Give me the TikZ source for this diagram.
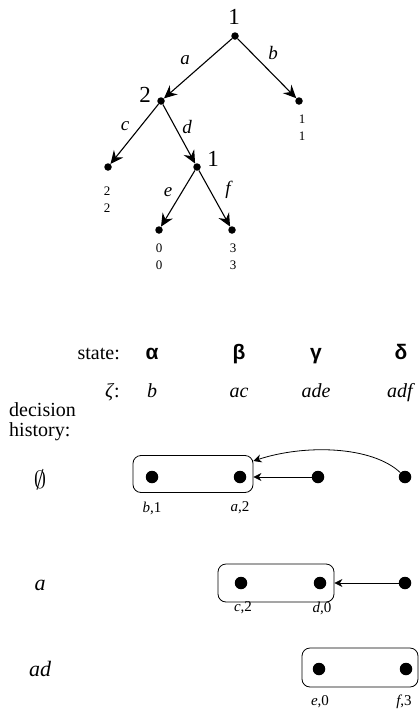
\documentclass[tikz,border=0pt]{standalone}
\usepackage{fontspec}
\setmainfont{Liberation Serif}
\newfontfamily\gsans{Liberation Sans}
\usetikzlibrary{arrows.meta}
\begin{document}
\begin{tikzpicture}[x=1pt,y=-1pt,
  tdot/.style={circle,fill=black,inner sep=0pt,minimum size=7.5pt},
  ldot/.style={circle,fill=black,inner sep=0pt,minimum size=12.5pt},
  tarrow/.style={line width=1.1pt,-{Stealth[length=13pt,width=12pt,inset=4.5pt]}},
  larrow/.style={line width=0.8pt,-{Stealth[length=8pt,width=8pt,inset=2.5pt]}},
  plabel/.style={font=\fontsize{23}{24}\selectfont,inner sep=0pt},
  elabel/.style={font=\fontsize{19}{20}\selectfont\itshape,inner sep=0pt},
  pay/.style={font=\fontsize{13}{17}\selectfont,align=center,inner sep=0pt},
  txt/.style={font=\fontsize{20}{20}\selectfont,inner sep=0pt,anchor=base},
  greek/.style={font=\fontsize{21}{21}\selectfont\gsans\bfseries,inner sep=0pt,anchor=base},
  hist/.style={font=\fontsize{22}{22}\selectfont\itshape,inner sep=0pt},
  small/.style={font=\fontsize{15}{15}\selectfont,inner sep=0pt},
  box/.style={draw,line width=0.8pt,rounded corners=8pt,inner sep=0pt}
]
\useasboundingbox (0,0) rectangle (419,715);
% ---- tree ----
\node[tdot] (r) at (235,36) {};
\node[tdot] (n2) at (161,101) {};
\node[tdot] (lb) at (299,101) {};
\node[tdot] (lc) at (108,167) {};
\node[tdot] (n3) at (197,167) {};
\node[tdot] (le) at (159,230) {};
\node[tdot] (lf) at (232,230) {};
\node[plabel] (pr) at (234,17) {1};
\node[plabel] (p2) at (145,95) {2};
\node[plabel] (p3) at (213,159) {1};
\draw[tarrow] (r) -- (n2);
\draw[tarrow] (r) -- (lb);
\draw[tarrow] (n2) -- (lc);
\draw[tarrow] (n2) -- (n3);
\draw[tarrow] (n3) -- (le);
\draw[tarrow] (n3) -- (lf);
\node[elabel] (ea) at (185,60) {a};
\node[elabel] (eb) at (273,53) {b};
\node[elabel] (ec) at (125,126) {c};
\node[elabel] (ed) at (187,127) {d};
\node[elabel] (ee) at (168,192) {e};
\node[elabel] (ef) at (228,190) {f};
\node[pay] (yb) at (302,127.5) {1\\1};
\node[pay] (yc) at (107,199.5) {2\\2};
\node[pay] (ye) at (159,256.5) {0\\0};
\node[pay] (yf) at (233,256.5) {3\\3};
% ---- table header ----
\node[txt,anchor=base east] (st) at (120,359) {state:};
\node[greek] (ga) at (152,359) {α};
\node[greek] (gb) at (239,359) {β};
\node[greek] (gg) at (316,359) {γ};
\node[greek] (gd) at (401,359) {δ};
\node[txt,anchor=base east] (zt) at (120,397) {\textit{ζ}:};
\node[txt] (za) at (152,397) {\textit{b}};
\node[txt] (zb) at (239,397) {\textit{ac}};
\node[txt] (zg) at (316,397) {\textit{ade}};
\node[txt] (zd) at (401,397) {\textit{adf}};
\node[anchor=west,align=left,inner sep=0pt,font=\fontsize{20}{20}\selectfont] (dh) at (9,422) {decision\\history:};
% ---- rows ----
\node[hist,font=\fontsize{30}{30}\selectfont] (h0) at (40,480) {$\emptyset$};
\node[hist] (h1) at (40,585) {a};
\node[hist] (h2) at (40,669) {ad};
% row 0
\node[box,minimum width=120pt,minimum height=37pt] (b1) at (193,474) {};
\node[ldot] (a0) at (152,477) {};
\node[ldot] (b0) at (240,477) {};
\node[ldot] (c0) at (318,477) {};
\node[ldot] (d0) at (405,477) {};
\node[small] (la0) at (152,508) {\textit{b},1};
\node[small] (lb0) at (240,508) {\textit{a},2};
\draw[larrow] (c0) -- (c0 -| b1.east);
\coordinate (t0) at ([yshift=13pt]b1.east);
\draw[larrow] (d0) .. controls (372,446) and (305,444) .. (t0);
% row a
\node[box,minimum width=116pt,minimum height=38pt] (b2) at (276,583) {};
\node[ldot] (b1d) at (241,583) {};
\node[ldot] (c1d) at (320,583) {};
\node[ldot] (d1d) at (405,583) {};
\node[small] (lc1) at (243,608) {\textit{c},2};
\node[small] (ld1) at (322,608) {\textit{d},0};
\draw[larrow] (d1d) -- (b2.east |- d1d);
% row ad
\node[box,minimum width=116pt,minimum height=39pt] (b3) at (360,667.5) {};
\node[ldot] (c2d) at (319,669) {};
\node[ldot] (d2d) at (406,669) {};
\node[small] (le2) at (320,702) {\textit{e},0};
\node[small] (lf2) at (404,702) {\textit{f},3};
\end{tikzpicture}
\end{document}
